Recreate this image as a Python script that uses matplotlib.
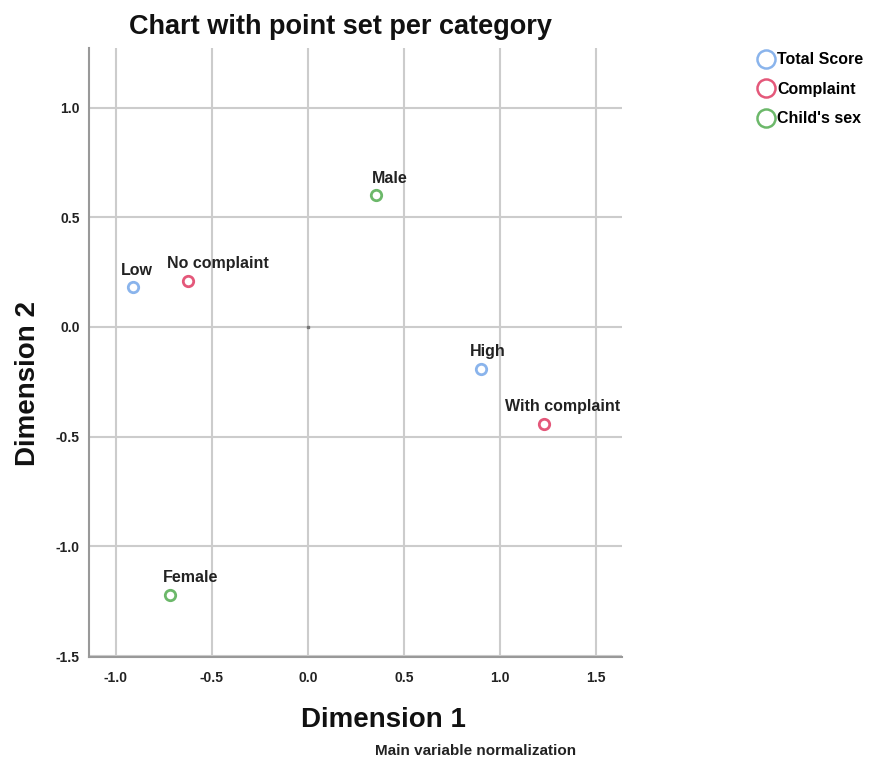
import matplotlib.pyplot as plt
from matplotlib.lines import Line2D

plt.rcParams['font.family'] = ['Liberation Sans', 'DejaVu Sans']

# category points (Dimension 1, Dimension 2)
labels = ['Low', 'High', 'No complaint', 'With complaint', 'Male', 'Female']
groups = ['Total Score', 'Total Score', 'Complaint', 'Complaint', "Child's sex", "Child's sex"]
dim1 = [-0.91, 0.90, -0.625, 1.23, 0.355, -0.72]
dim2 = [0.18, -0.19, 0.21, -0.44, 0.60, -1.22]

group_names = ['Total Score', 'Complaint', "Child's sex"]
group_colors = {'Total Score': '#8ab4ec', 'Complaint': '#e4587a', "Child's sex": '#6cb86a'}

# label offsets in points (text placed above each point)
label_offsets = {'Low': (-9, 7), 'High': (-8, 7), 'No complaint': (-15, 7),
                 'With complaint': (-28, 7), 'Male': (-3, 7), 'Female': (-5, 7)}

fig = plt.figure(figsize=(8.75, 7.66), dpi=100)
ax = fig.add_axes([0.102, 0.142, 0.609, 0.795])

for lab, g, x, y in zip(labels, groups, dim1, dim2):
    ax.plot(x, y, 'o', ms=7.5, mfc='white', mec=group_colors[g], mew=2, zorder=3)
    dx, dy = label_offsets[lab]
    ax.annotate(lab, (x, y), xytext=(dx, dy), textcoords='offset points',
                fontsize=11.5, fontweight='bold', color='#222222', ha='left', va='bottom')

# small mark at origin
ax.plot(0, 0, 's', ms=1.5, color='#777777', zorder=2)

ax.set_xlim(-1.138, 1.635)
ax.set_ylim(-1.505, 1.27)
ax.set_xticks([-1.0, -0.5, 0.0, 0.5, 1.0, 1.5])
ax.set_yticks([-1.5, -1.0, -0.5, 0.0, 0.5, 1.0])
ax.set_xticklabels(['-1.0', '-0.5', '0.0', '0.5', '1.0', '1.5'])
ax.set_yticklabels(['-1.5', '-1.0', '-0.5', '0.0', '0.5', '1.0'])
ax.grid(True, color='#cccccc', linewidth=1.5)
ax.set_axisbelow(True)
ax.tick_params(axis='x', length=0, labelsize=10, colors='#222222', pad=10)
ax.tick_params(axis='y', length=0, labelsize=10, colors='#222222', pad=7)
for t in ax.get_xticklabels() + ax.get_yticklabels():
    t.set_fontweight('bold')

for side in ['top', 'right']:
    ax.spines[side].set_visible(False)
for side in ['left', 'bottom']:
    ax.spines[side].set_color('#999999')
    ax.spines[side].set_linewidth(1.5)

fig.text(0.389, 0.965, 'Chart with point set per category', fontsize=19.5, fontweight='bold',
         ha='center', va='center', color='#111111')
fig.text(0.438, 0.06, 'Dimension 1', fontsize=20, fontweight='bold',
         ha='center', va='center', color='#111111')
fig.text(0.032, 0.5, 'Dimension 2', fontsize=20, fontweight='bold', rotation=90,
         ha='center', va='center', color='#111111')
fig.text(0.543, 0.01, 'Main variable normalization', fontsize=11, fontweight='bold',
         ha='center', va='bottom', color='#222222')

handles = [Line2D([], [], marker='o', ls='none', ms=13, mfc='white',
                  mec=group_colors[g], mew=1.8) for g in group_names]
fig.legend(handles, group_names, loc='upper left', bbox_to_anchor=(0.856, 0.942),
           frameon=False, prop={'size': 11.5, 'weight': 'bold'},
           handletextpad=0.15, labelspacing=0.9, handlelength=1.1, borderpad=0)

fig.savefig('out.png', dpi=100)
